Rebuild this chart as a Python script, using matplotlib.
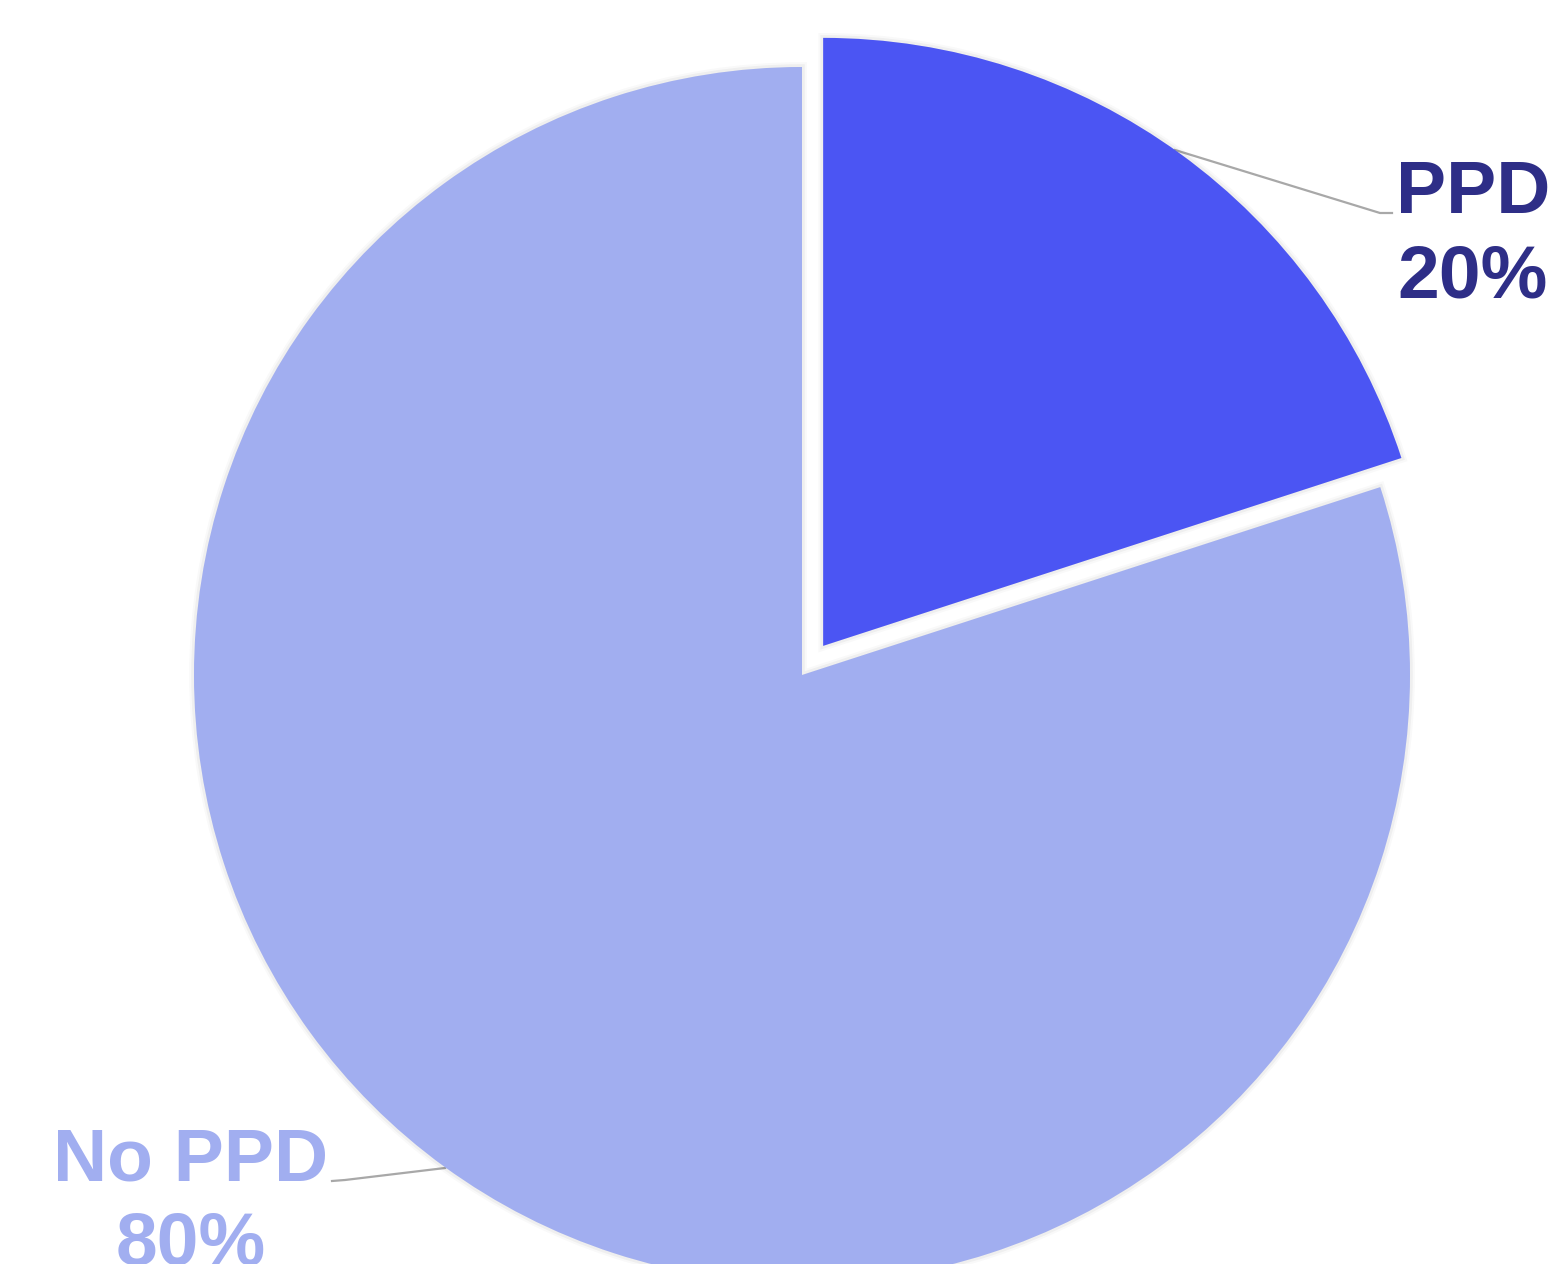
import matplotlib
matplotlib.use("Agg")
import matplotlib.pyplot as plt
import matplotlib.patheffects as pe

labels = ["PPD", "No PPD"]
values = [20, 80]
colors = ["#4B55F3", "#A1AEF0"]
label_colors = ["#2E2E87", "#A1AEF0"]

W, H = 1548, 1264
fig = plt.figure(figsize=(W / 100, H / 100), dpi=100)
ax = fig.add_axes([0, 0, 1, 1])

cx, cy, r = 802, H - 675, 608
explode = [36, 0]  # pie explode is in data units

# leader lines (drawn beneath the pie)
ax.plot([1175, 1380, 1392], [H - 150, H - 213, H - 213], color="#A8A8A8", lw=1.6, zorder=1)
ax.plot([445, 345, 332], [H - 1168, H - 1180, H - 1181], color="#A8A8A8", lw=1.6, zorder=1)

wedges, _ = ax.pie(values, colors=colors, startangle=90, counterclock=False,
                   explode=explode, center=(cx, cy), radius=r, frame=True,
                   wedgeprops=dict(linewidth=0))
ax.set_xlim(0, W)
ax.set_ylim(0, H)
ax.set_aspect("equal")
ax.axis("off")
for w in wedges:
    w.set_zorder(3)
    w.set_path_effects([
        pe.Stroke(linewidth=7, foreground="#000000", alpha=0.025),
        pe.Stroke(linewidth=4, foreground="#000000", alpha=0.04),
        pe.Normal(),
    ])

font = dict(family=["Liberation Sans", "DejaVu Sans"], fontweight="bold", fontsize=54)
ax.text(1473, H - 236, f"{labels[0]}\n{values[0]}%", ha="center", va="center",
        multialignment="center", color=label_colors[0], linespacing=1.28, zorder=5, **font)
ax.text(191, H - 1203, f"{labels[1]}\n{values[1]}%", ha="center", va="center",
        multialignment="center", color=label_colors[1], linespacing=1.28, zorder=5, **font)

fig.savefig("out.png", dpi=100)
